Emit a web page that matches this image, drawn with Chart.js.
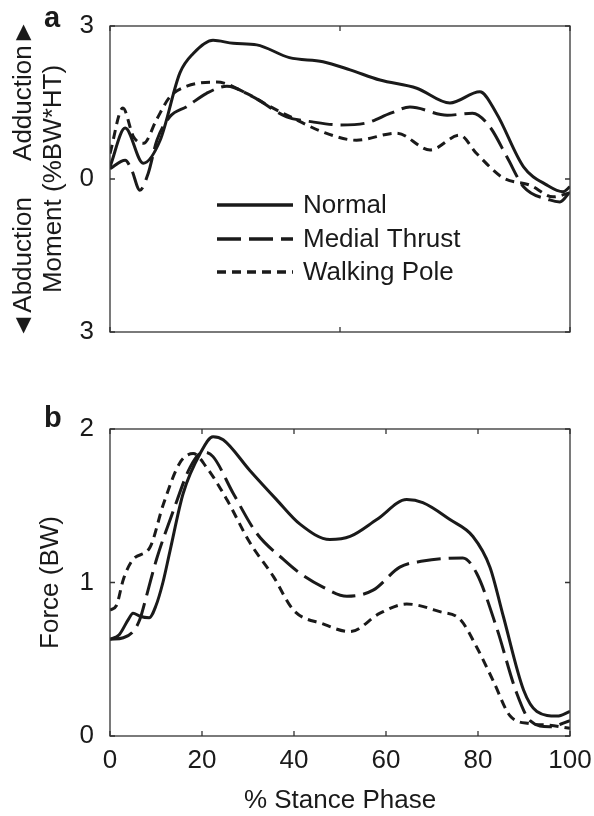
<!DOCTYPE html>
<html>
<head>
<meta charset="utf-8">
<script src="https://cdn.jsdelivr.net/npm/chart.js@4.4.1/dist/chart.umd.min.js"></script>
<style>
body { margin: 0; background: #fff; width: 594px; height: 816px; position: relative; overflow: hidden; }
canvas { position: absolute; left: 0; }
#momentChart { top: 0; }
#forceChart { top: 400px; }
</style>
</head>
<body>
<canvas id="momentChart" width="594" height="400"></canvas>
<canvas id="forceChart" width="594" height="416"></canvas>
<script>
// panel a: knee adduction moment (%BW*HT)
const seriesNames = ['Normal', 'Medial Thrust', 'Walking Pole'];

const momNormalX = [0, 3.3, 7.2, 10.9, 15.2, 18.1, 22.4, 26.8, 31.9, 39, 46.3, 52.2, 58.7, 66.7, 73.9, 80.4, 84, 89.9, 95, 98.5, 100];
const momNormalY = [0.24, 1.0, 0.31, 0.76, 2.08, 2.46, 2.72, 2.66, 2.63, 2.38, 2.3, 2.14, 1.94, 1.78, 1.49, 1.71, 1.29, 0.24, -0.12, -0.25, -0.15];

const momMedialX = [0, 3.3, 4.7, 6.5, 8.3, 10.2, 13, 16.7, 21, 25.4, 31.1, 38.4, 44, 50, 55.8, 61, 65.2, 73.3, 78.8, 82.6, 86.3, 89.9, 95.6, 97.8, 100];
const momMedialY = [0.2, 0.37, 0.18, -0.22, 0.11, 0.76, 1.22, 1.42, 1.68, 1.82, 1.61, 1.22, 1.12, 1.06, 1.1, 1.29, 1.41, 1.25, 1.29, 1.02, 0.43, -0.15, -0.41, -0.45, -0.25];

const momPoleX = [0, 2.8, 5.1, 7.3, 10.1, 13, 16.7, 23.2, 29.7, 34.8, 39.9, 46.3, 53.6, 62.3, 69.6, 76, 79.7, 85.5, 91.3, 96.3, 100];
const momPoleY = [0.5, 1.39, 0.83, 0.7, 1.16, 1.61, 1.82, 1.9, 1.68, 1.42, 1.19, 0.92, 0.76, 0.9, 0.57, 0.86, 0.5, 0.02, -0.12, -0.35, -0.27];

// panel b: knee contact force (BW)
const forceNormalX = [0, 2, 4, 5, 6.5, 8.5, 10, 11.5, 13, 15.9, 19.6, 22.4, 24.6, 30.4, 36.2, 41.3, 47.8, 52.2, 58, 64.5, 68, 73.9, 78.9, 82.6, 85.5, 89.9, 92.8, 97.2, 100];
const forceNormalY = [0.63, 0.66, 0.76, 0.8, 0.78, 0.77, 0.85, 1.0, 1.2, 1.58, 1.84, 1.95, 1.93, 1.73, 1.54, 1.38, 1.28, 1.3, 1.41, 1.54, 1.52, 1.41, 1.3, 1.1, 0.78, 0.3, 0.16, 0.13, 0.16];

const forceMedialX = [0, 2.9, 5, 6.5, 8, 10.1, 13.8, 17.4, 20.3, 22.4, 26.8, 31.9, 37.7, 41.3, 46.3, 51.5, 57.2, 63, 68, 76.7, 79.7, 84, 88.4, 91.3, 95.6, 100];
const forceMedialY = [0.63, 0.64, 0.68, 0.76, 0.92, 1.15, 1.47, 1.75, 1.85, 1.82, 1.58, 1.32, 1.15, 1.06, 0.97, 0.91, 0.95, 1.1, 1.14, 1.16, 1.06, 0.71, 0.28, 0.1, 0.06, 0.1];

const forcePoleX = [0, 1.4, 2.9, 5, 8.7, 11.6, 15.2, 18.1, 21, 25.4, 30.4, 35.5, 39.9, 46.3, 52.2, 58.7, 64.5, 71.7, 76.1, 79.7, 83.3, 87, 91.3, 95.6, 100];
const forcePoleY = [0.82, 0.85, 1.02, 1.15, 1.23, 1.51, 1.78, 1.84, 1.75, 1.54, 1.26, 1.04, 0.82, 0.73, 0.68, 0.8, 0.86, 0.81, 0.76, 0.58, 0.36, 0.13, 0.08, 0.07, 0.05];

const momentTicks = [-3, 0, 3];
const forceTicks = [0, 1, 2];

const FONT = '"Liberation Sans", Arial, sans-serif';
const INK = '#1a1a1a';
const dashes = [[], [24, 8], [9, 6]];

function series(i, xs, ys) {
    return {
        label: seriesNames[i],
        data: xs.map((x, k) => ({ x, y: ys[k] })),
        borderColor: INK, borderWidth: 3, borderDash: dashes[i],
        pointRadius: 0, cubicInterpolationMode: 'monotone', fill: false
    };
}

// box around the plot with matlab style inward ticks, plus the panel letter
const framePlugin = {
    id: 'frame',
    afterDatasetsDraw(chart, args, opts) {
        const { ctx, chartArea: a, scales: { x, y } } = chart;
        ctx.save();
        ctx.strokeStyle = '#333'; ctx.lineWidth = 1.3;
        ctx.strokeRect(a.left, a.top, a.right - a.left, a.bottom - a.top);
        ctx.beginPath();
        x.ticks.forEach(t => {
            const px = x.getPixelForValue(t.value);
            ctx.moveTo(px, a.bottom); ctx.lineTo(px, a.bottom - 5);
            ctx.moveTo(px, a.top); ctx.lineTo(px, a.top + 5);
        });
        y.ticks.forEach(t => {
            const py = y.getPixelForValue(t.value);
            ctx.moveTo(a.left, py); ctx.lineTo(a.left + 5, py);
            ctx.moveTo(a.right, py); ctx.lineTo(a.right - 5, py);
        });
        ctx.stroke();
        ctx.fillStyle = INK;
        ctx.font = 'bold 29px ' + FONT;
        ctx.textBaseline = 'alphabetic';
        ctx.fillText(opts.letter, 44, 27);
        ctx.restore();
    }
};

// line key inside panel a
const keyPlugin = {
    id: 'lineKey',
    afterDraw(chart, args, opts) {
        if (!opts.rows) return;
        const ctx = chart.ctx;
        ctx.save();
        ctx.font = '26px ' + FONT;
        ctx.fillStyle = INK;
        ctx.textBaseline = 'middle';
        chart.data.datasets.forEach((ds, i) => {
            const yy = opts.rows[i];
            ctx.strokeStyle = ds.borderColor; ctx.lineWidth = 3.5;
            ctx.setLineDash(ds.borderDash);
            ctx.beginPath(); ctx.moveTo(opts.x0, yy); ctx.lineTo(opts.x1, yy); ctx.stroke();
            ctx.setLineDash([]);
            ctx.fillText(ds.label, opts.x1 + 10, yy + 1);
        });
        ctx.restore();
    }
};

function makeScales(cfg) {
    return {
        x: {
            type: 'linear', min: 0, max: 100,
            grid: { display: false }, border: { display: false },
            ticks: { display: cfg.xLabels, stepSize: cfg.xStep, padding: 1, color: INK, font: { family: FONT, size: 26 } },
            title: { display: !!cfg.xTitle, text: cfg.xTitle, color: INK, padding: { top: 0, bottom: 0 }, font: { family: FONT, size: 26, lineHeight: '30px' } },
            afterFit: s => { s.height = cfg.xHeight; }
        },
        y: {
            type: 'linear', min: cfg.yTicks[0], max: cfg.yTicks[cfg.yTicks.length - 1],
            afterBuildTicks: s => { s.ticks = cfg.yTicks.map(v => ({ value: v })); },
            grid: { display: false }, border: { display: false },
            ticks: { padding: 8, color: INK, font: { family: FONT, size: 26 }, callback: v => String(Math.abs(v)) },
            title: { display: true, text: cfg.yTitle, color: INK, padding: { top: cfg.yTitlePad, bottom: 0 }, font: { family: FONT, size: 26, lineHeight: '30px' } },
            afterFit: s => { s.width = 110; }
        }
    };
}

window.onload = () => {
    new Chart(document.getElementById('momentChart'), {
        type: 'line',
        data: { datasets: [series(0, momNormalX, momNormalY), series(1, momMedialX, momMedialY), series(2, momPoleX, momPoleY)] },
        options: {
            responsive: false, animation: false,
            layout: { padding: { top: 26, right: 24, left: 0, bottom: 0 } },
            plugins: { legend: { display: false }, tooltip: { enabled: false },
                frame: { letter: 'a' }, lineKey: { rows: [205, 239, 272], x0: 217, x1: 293 } },
            scales: makeScales({ xLabels: false, xStep: 50, xHeight: 68, yTicks: momentTicks,
                yTitle: ['\u25C4Abduction     Adduction\u25BA', 'Moment (%BW*HT)'], yTitlePad: 9 })
        },
        plugins: [framePlugin, keyPlugin]
    });

    new Chart(document.getElementById('forceChart'), {
        type: 'line',
        data: { datasets: [series(0, forceNormalX, forceNormalY), series(1, forceMedialX, forceMedialY), series(2, forcePoleX, forcePoleY)] },
        options: {
            responsive: false, animation: false,
            layout: { padding: { top: 29, right: 24, left: 0, bottom: 0 } },
            plugins: { legend: { display: false }, tooltip: { enabled: false }, frame: { letter: 'b' } },
            scales: makeScales({ xLabels: true, xStep: 20, xHeight: 80, xTitle: '% Stance Phase', yTicks: forceTicks,
                yTitle: 'Force (BW)', yTitlePad: 36 })
        },
        plugins: [framePlugin, keyPlugin]
    });
};
</script>
</body>
</html>
